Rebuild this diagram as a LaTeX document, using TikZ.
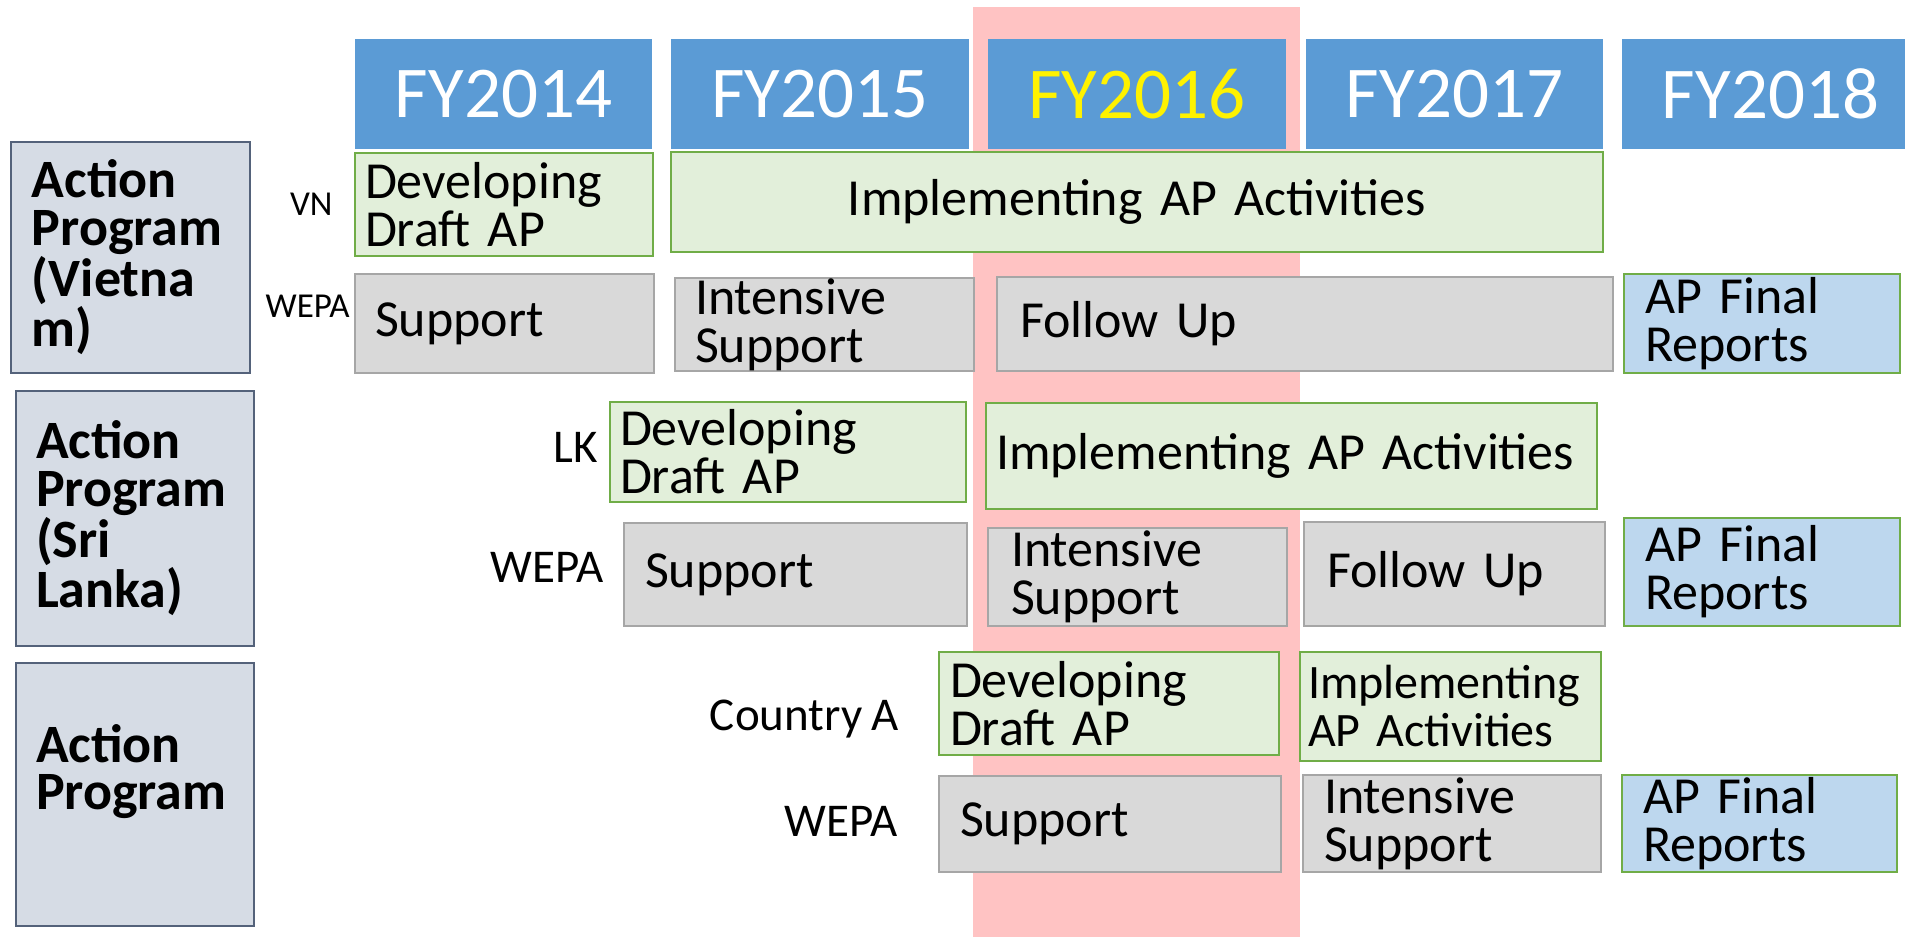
\documentclass[tikz,border=0pt]{standalone}
\usepackage{fontspec}
\setmainfont{Carlito}[WordSpace=0.85]
\definecolor{hdrblue}{RGB}{91,155,213}
\definecolor{pinkband}{RGB}{255,195,195}
\definecolor{grnfill}{RGB}{226,239,218}
\definecolor{grnline}{RGB}{112,173,71}
\definecolor{gryfill}{RGB}{217,217,217}
\definecolor{gryline}{RGB}{166,166,166}
\definecolor{blufill}{RGB}{189,215,238}
\definecolor{actfill}{RGB}{214,220,229}
\definecolor{actline}{RGB}{84,98,122}
\newcommand{\bx}[9]{%
  \pgfmathsetmacro{\bw}{(#4-#2)*0.5}%
  \pgfmathsetmacro{\bh}{(#5-#3)*0.5}%
  \pgfmathsetmacro{\tw}{(#4-#2-2*#7)*0.5}%
  \node[#6, minimum width=\bw pt, minimum height=\bh pt, inner sep=0pt] (#1) at ({(#2+#4)/2},{(#3+#5)/2}) {};
  \node[inner sep=0pt, text width=\tw pt, #8] (#1-t) at (#1.center) {#9};}
\begin{document}
\begin{tikzpicture}[x=0.5pt,y=-0.5pt,
  hdr/.style={fill=hdrblue},
  hdrtxt/.style={align=center, text=white, font=\fontsize{36.5}{40}\selectfont},
  grn/.style={fill=grnfill, draw=grnline, line width=1pt},
  gry/.style={fill=gryfill, draw=gryline, line width=1.2pt},
  blu/.style={fill=blufill, draw=grnline, line width=1pt},
  act/.style={fill=actfill, draw=actline, line width=1.2pt},
  bodyl/.style={align=left, font=\fontsize{26}{24}\selectfont},
  bodyc/.style={align=center, font=\fontsize{26}{24}\selectfont},
  bodys/.style={align=left, font=\fontsize{24}{24}\selectfont},
  bld/.style={align=left, font=\bfseries\fontsize{27}{23.75}\selectfont},
  lblsm/.style={anchor=base east, inner sep=0pt, font=\fontsize{17.5}{20}\selectfont},
  lbl/.style={anchor=base east, inner sep=0pt, font=\fontsize{23.5}{26}\selectfont}]
\useasboundingbox (0,0) rectangle (1905,937);
\fill[white] (0,0) rectangle (1905,937);
% highlighted year band
\node[fill=pinkband, minimum width=163.5pt, minimum height=465pt, inner sep=0pt] (band) at (1136.5,472) {};
% year headers
\bx{h14}{355}{39}{652}{149}{hdr}{0}{hdrtxt}{FY2014}
\bx{h15}{671}{39}{969}{149}{hdr}{0}{hdrtxt}{FY2015}
\bx{h16}{988}{39}{1286}{149}{hdr}{0}{hdrtxt, text=yellow}{FY2016}
\bx{h17}{1306}{39}{1603}{149}{hdr}{0}{hdrtxt}{FY2017}
\bx{h18}{1622}{39}{1919}{149}{hdr}{0}{hdrtxt}{FY2018}
% programme boxes
\bx{pvn}{11}{142}{250}{373}{act}{21}{bld}{Action\\Program\\(Vietna\\m)}
\bx{psl}{16}{391}{254}{646}{act}{20}{bld}{Action\\Program\\(Sri\\Lanka)}
\bx{pa}{16}{663}{254}{926}{act}{20}{bld, yshift=11.5pt}{Action\\Program}
% row labels
\node[lblsm] (lvn) at (333,215) {VN};
\node[lblsm] (lwvn) at (350,317) {WEPA};
\node[lbl] (llk) at (598,462) {LK};
\node[lbl] (lwlk) at (604,582) {WEPA};
\node[lbl] (lca) at (899,730) {Country A};
\node[lbl] (lwa) at (898,836) {WEPA};
% Vietnam
\bx{vn1}{355}{153}{653}{256}{grn}{10}{bodyl}{Developing\\Draft AP}
\bx{vn2}{671}{152}{1603}{252}{grn}{10}{bodyc}{Implementing AP Activities}
\bx{vw1}{355}{274}{654}{373}{gry}{20}{bodyl}{Support}
\bx{vw2}{675}{278}{974}{371}{gry}{20}{bodyl}{Intensive\\Support}
\bx{vw3}{997}{277}{1613}{371}{gry}{23}{bodyl}{Follow Up}
\bx{vw4}{1624}{274}{1900}{373}{blu}{21}{bodyl}{AP Final\\Reports}
% Sri Lanka
\bx{lk1}{610}{402}{966}{502}{grn}{10}{bodyl}{Developing\\Draft AP}
\bx{lk2}{986}{403}{1597}{509}{grn}{10}{bodyl}{Implementing AP Activities}
\bx{lw1}{624}{523}{967}{626}{gry}{21}{bodyl}{Support}
\bx{lw2}{988}{528}{1287}{626}{gry}{23}{bodyl}{Intensive\\Support}
\bx{lw3}{1304}{522}{1605}{626}{gry}{23}{bodyl}{Follow Up}
\bx{lw4}{1624}{518}{1900}{626}{blu}{21}{bodyl}{AP Final\\Reports}
% Country A
\bx{ca1}{939}{652}{1279}{755}{grn}{11}{bodyl}{Developing\\Draft AP}
\bx{ca2}{1300}{652}{1601}{761}{grn}{8}{bodys}{Implementing\\AP Activities}
\bx{aw1}{939}{776}{1281}{872}{gry}{21}{bodyl}{Support}
\bx{aw2}{1303}{775}{1601}{872}{gry}{21}{bodyl}{Intensive\\Support}
\bx{aw3}{1622}{775}{1897}{872}{blu}{21}{bodyl}{AP Final\\Reports}
\end{tikzpicture}
\end{document}
